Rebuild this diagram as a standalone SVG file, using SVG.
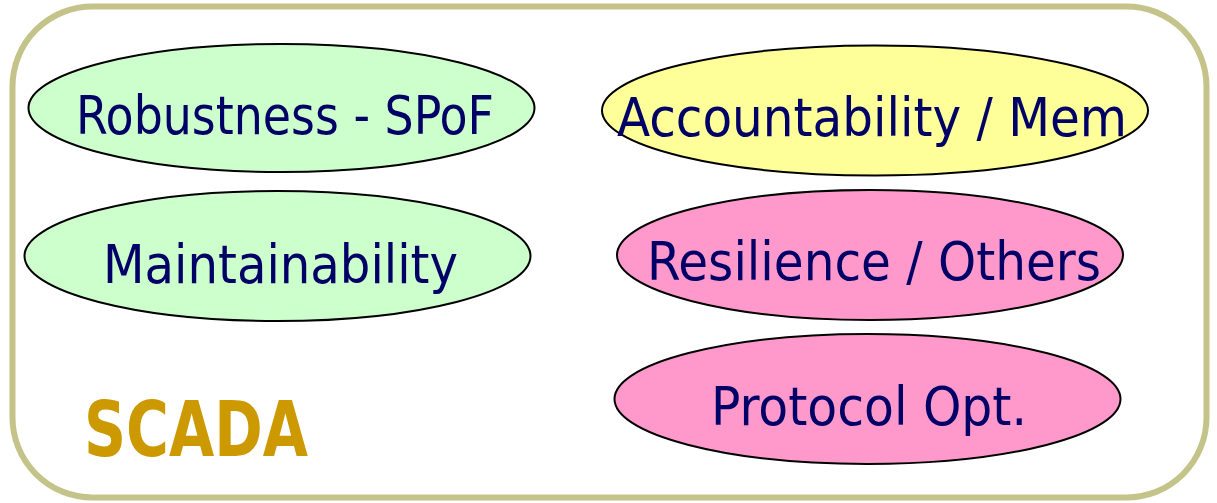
<svg xmlns="http://www.w3.org/2000/svg" width="1217" height="503" viewBox="0 0 1217 503">
<style>
.node ellipse{stroke:#000;stroke-width:2}
.node text{font-family:"DejaVu Sans Condensed","DejaVu Sans",sans-serif;font-size:54px;fill:#000066;text-anchor:middle}
.green{fill:#CCFFCC}.yellow{fill:#FFFF99}.pink{fill:#FF99CC}
</style>
<rect x="12.5" y="6.5" width="1194" height="491" rx="80" ry="80" fill="#fff" stroke="#C4C48A" stroke-width="6"/>
<g id="robustness" class="node"><ellipse class="green" cx="281.5" cy="108" rx="253" ry="64"/><text x="285" y="134" textLength="418" lengthAdjust="spacingAndGlyphs">Robustness - SPoF</text></g>
<g id="maintainability" class="node"><ellipse class="green" cx="277.5" cy="256" rx="253" ry="65"/><text x="280.5" y="283" textLength="355" lengthAdjust="spacingAndGlyphs">Maintainability</text></g>
<g id="accountability" class="node"><ellipse class="yellow" cx="875" cy="110.5" rx="273" ry="65"/><text x="872" y="136" textLength="510" lengthAdjust="spacingAndGlyphs">Accountability / Mem</text></g>
<g id="resilience" class="node"><ellipse class="pink" cx="870" cy="255" rx="253" ry="65"/><text x="874" y="280" textLength="454" lengthAdjust="spacingAndGlyphs">Resilience / Others</text></g>
<g id="protocol" class="node"><ellipse class="pink" cx="867.5" cy="399" rx="253" ry="65"/><text x="869" y="425" textLength="316" lengthAdjust="spacingAndGlyphs">Protocol Opt.</text></g>
<g id="connectors"></g>
<text x="84" y="456" textLength="224" lengthAdjust="spacingAndGlyphs" style="font-family:'DejaVu Sans Condensed','DejaVu Sans',sans-serif;font-weight:bold;font-size:76px;fill:#CC9900">SCADA</text>
</svg>
